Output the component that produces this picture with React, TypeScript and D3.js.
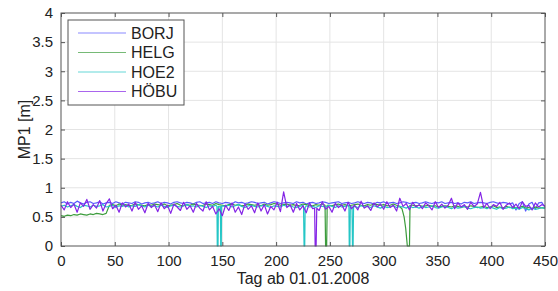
import { useEffect, useRef } from "react";
import * as d3 from "d3";

// day grid: every 3 days from 0 to 450
const days = d3.range(0, 451, 3);

const seriesNames = ["BORJ", "HELG", "HOE2", "HÖBU"];
const seriesColors = ["#5a5aff", "#3c9c3c", "#25c6c6", "#8424e6"];

const xTicks = [0, 50, 100, 150, 200, 250, 300, 350, 400, 450];
const yTicks = [0, 0.5, 1, 1.5, 2, 2.5, 3, 3.5, 4];

const borj = [
  0.74, 0.76, 0.72, 0.75, 0.73, 0.77, 0.74, 0.72, 0.75, 0.76,
  0.73, 0.74, 0.76, 0.72, 0.74, 0.75, 0.73, 0.76, 0.74, 0.72,
  0.75, 0.74, 0.73, 0.76, 0.75, 0.72, 0.74, 0.75, 0.73, 0.74,
  0.76, 0.73, 0.75, 0.74, 0.72, 0.75, 0.76, 0.74, 0.73, 0.75,
  0.74, 0.72, 0.75, 0.76, 0.73, 0.74, 0.75, 0.73, 0.76, 0.74,
  0.73, 0.75, 0.74, 0.72, 0.76, 0.74, 0.75, 0.73, 0.74, 0.76,
  0.75, 0.73, 0.74, 0.75, 0.72, 0.74, 0.76, 0.75, 0.73, 0.74,
  0.75, 0.74, 0.73, 0.76, 0.74, 0.75, 0.72, 0.74, 0.75, 0.73,
  0.74, 0.76, 0.75, 0.73, 0.74, 0.75, 0.76, 0.73, 0.74, 0.75,
  0.73, 0.74, 0.76, 0.74, 0.73, 0.75, 0.74, 0.72, 0.75, 0.74,
  0.76, 0.73, 0.74, 0.75, 0.73, 0.74, 0.76, 0.75, 0.73, 0.74,
  0.75, 0.73, 0.74, 0.76, 0.74, 0.73, 0.75, 0.74, 0.76, 0.73,
  0.74, 0.75, 0.73, 0.74, 0.72, 0.75, 0.74, 0.76, 0.73, 0.74,
  0.75, 0.74, 0.73, 0.75, 0.76, 0.74, 0.73, 0.75, 0.74, 0.72,
  0.74, 0.62, 0.73, 0.76, 0.6, 0.72, 0.75, 0.63, 0.74, 0.75,
  0.66,
];

const helg = [
  0.52, 0.51, 0.53, 0.52, 0.54, 0.53, 0.55, 0.54, 0.53, 0.55,
  0.54, 0.56, 0.55, 0.54, 0.56, 0.7, 0.71, 0.69, 0.72, 0.7,
  0.71, 0.69, 0.7, 0.72, 0.71, 0.7, 0.69, 0.71, 0.7, 0.72,
  0.71, 0.7, 0.72, 0.69, 0.7, 0.71, 0.73, 0.7, 0.69, 0.71,
  0.7, 0.72, 0.71, 0.69, 0.7, 0.72, 0.71, 0.7, 0.73, 0.71,
  0.7, 0.69, 0.71, 0.72, 0.7, 0.71, 0.69, 0.7, 0.72, 0.71,
  0.7, 0.71, 0.69, 0.72, 0.7, 0.71, 0.73, 0.72, 0.7, 0.71,
  0.72, 0.7, 0.71, 0.69, 0.7, 0.72, 0.71, 0.7, 0.69, 0.71,
  0.7, 0.72, 0.71, 0.7, 0.69, 0.71, 0.72, 0.7, 0.71, 0.69,
  0.7, 0.71, 0.72, 0.7, 0.69, 0.71, 0.7, 0.72, 0.71, 0.7,
  0.71, 0.69, 0.7, 0.72, 0.7, 0.71, 0.7, 0.69, 0.71, 0.7,
  0.69, 0.7, 0.68, 0.69, 0.7, 0.68, 0.69, 0.67, 0.68, 0.69,
  0.68, 0.67, 0.69, 0.68, 0.66, 0.68, 0.67, 0.69, 0.68, 0.66,
  0.67, 0.68, 0.66, 0.67, 0.69, 0.66, 0.67, 0.65, 0.68, 0.66,
  0.67, 0.65, 0.66, 0.68, 0.65, 0.66, 0.64, 0.67, 0.65, 0.66,
  0.65,
];

const hoe2 = [
  0.68, 0.7, 0.67, 0.69, 0.71, 0.68, 0.66, 0.7, 0.69, 0.67,
  0.7, 0.68, 0.69, 0.71, 0.67, 0.68, 0.7, 0.66, 0.69, 0.68,
  0.7, 0.67, 0.69, 0.68, 0.71, 0.69, 0.67, 0.7, 0.68, 0.69,
  0.67, 0.7, 0.68, 0.66, 0.69, 0.7, 0.68, 0.67, 0.69, 0.71,
  0.68, 0.69, 0.67, 0.7, 0.68, 0.66, 0.69, 0.68, 0.7, 0.67,
  0.69, 0.68, 0.7, 0.67, 0.69, 0.71, 0.68, 0.66, 0.69, 0.7,
  0.68, 0.67, 0.69, 0.7, 0.68, 0.66, 0.69, 0.68, 0.67, 0.7,
  0.68, 0.69, 0.67, 0.66, 0.68, 0.7, 0.69, 0.67, 0.68, 0.66,
  0.69, 0.68, 0.67, 0.7, 0.68, 0.66, 0.69, 0.67, 0.68, 0.7,
  0.67, 0.68, 0.66, 0.69, 0.67, 0.68, 0.66, 0.69, 0.67, 0.65,
  0.68, 0.66, 0.67, 0.69, 0.66, 0.68, 0.67, 0.65, 0.68, 0.66,
  0.67, 0.65, 0.68, 0.66, 0.67, 0.69, 0.66, 0.65, 0.67, 0.68,
  0.66, 0.64, 0.67, 0.65, 0.66, 0.68, 0.65, 0.64, 0.66, 0.67,
  0.65, 0.66, 0.64, 0.67, 0.65, 0.63, 0.66, 0.64, 0.65, 0.67,
  0.64, 0.65, 0.63, 0.66, 0.64, 0.62, 0.65, 0.63, 0.64, 0.66,
  0.64,
];

const hobu = [
  0.7, 0.62, 0.76, 0.66, 0.72, 0.58, 0.74, 0.68, 0.8, 0.63,
  0.71, 0.65, 0.78, 0.6, 0.73, 0.81, 0.64, 0.7, 0.58, 0.74,
  0.67, 0.72, 0.6, 0.75, 0.63, 0.69, 0.57, 0.73, 0.66, 0.71,
  0.59, 0.74, 0.64, 0.7, 0.56, 0.72, 0.67, 0.61, 0.75, 0.63,
  0.69, 0.58, 0.73, 0.65, 0.6, 0.76, 0.62, 0.68, 0.55, 0.64,
  0.52, 0.7, 0.61, 0.74, 0.58, 0.67, 0.54, 0.72, 0.63, 0.69,
  0.57, 0.74, 0.6, 0.71, 0.55, 0.68, 0.62, 0.75, 0.59, 0.93,
  0.66, 0.71, 0.58, 0.73, 0.62, 0.69, 0.57, 0.74, 0.64, 0.7,
  0.61, 0.76, 0.63, 0.68, 0.58, 0.73, 0.66, 0.71, 0.6, 0.75,
  0.64, 0.7, 0.62, 0.77, 0.65, 0.69, 0.61, 0.74, 0.67, 0.72,
  0.63, 0.76, 0.66, 0.7, 0.6, 0.82, 0.68, 0.73, 0.62, 0.75,
  0.67, 0.71, 0.64, 0.74, 0.69, 0.62, 0.76, 0.66, 0.72, 0.65,
  0.7, 0.82, 0.64, 0.74, 0.67, 0.71, 0.63, 0.75, 0.68, 0.72,
  0.92, 0.66, 0.73, 0.64, 0.71, 0.68, 0.75, 0.63, 0.7, 0.74,
  0.66, 0.72, 0.64, 0.76, 0.68, 0.7, 0.62, 0.74, 0.67, 0.71,
  0.69,
];

// data gaps (drops to zero), as [day, value] points
const borjDrops: [number, number][][] = [];
const helgDrops: [number, number][][] = [
  [[245.5, 0.7], [246, 0], [247, 0], [247.5, 0.7]],
  [[314, 0.69], [317, 0.64], [319, 0.5], [320.5, 0.3], [321.5, 0.1], [322, 0], [324, 0], [324.5, 0.7]],
];
const hoe2Drops: [number, number][][] = [
  [[145, 0.68], [145.3, 0], [146, 0], [146.3, 0.68]],
  [[148.2, 0.68], [148.5, 0], [149, 0], [149.3, 0.68]],
  [[225.5, 0.66], [226, 0], [226.6, 0], [227, 0.66]],
  [[267.7, 0.67], [268, 0], [268.6, 0], [269, 0.67]],
  [[270.6, 0.67], [271, 0], [271.6, 0], [272, 0.67]],
];
const hobuDrops: [number, number][][] = [
  [[235.8, 0.65], [236.3, 0], [237.2, 0], [237.8, 0.65]],
];

const seriesValues = [borj, helg, hoe2, hobu];
const seriesDrops = [borjDrops, helgDrops, hoe2Drops, hobuDrops];

function buildPoints(values: number[], drops: [number, number][][]) {
  let pts: [number, number][] = days.map((d, i) => [d, values[i]]);
  drops.forEach((ev) => {
    const a = ev[0][0];
    const b = ev[ev.length - 1][0];
    pts = pts.filter((p) => p[0] < a || p[0] > b).concat(ev);
  });
  return pts.sort((p, q) => p[0] - q[0]);
}

export default function App() {
  const ref = useRef<SVGSVGElement>(null);

  useEffect(() => {
    const svg = d3.select(ref.current);
    svg.selectAll("*").remove();

    const W = 558;
    const H = 291;
    const margin = { top: 13, right: 13, bottom: 45, left: 61 };
    const width = W - margin.left - margin.right;
    const height = H - margin.top - margin.bottom;
    const font = "Arial, 'Liberation Sans', Helvetica, sans-serif";

    svg
      .attr("width", W)
      .attr("height", H)
      .style("display", "block")
      .style("position", "absolute")
      .style("left", "0px")
      .style("top", "0px");
    svg.append("rect").attr("width", W).attr("height", H).attr("fill", "#fff");

    const chart = svg
      .append("g")
      .attr("transform", `translate(${margin.left},${margin.top})`);

    const x = d3.scaleLinear().domain([0, 450]).range([0, width]);
    const y = d3.scaleLinear().domain([0, 4]).range([height, 0]);

    // grid
    chart
      .append("g")
      .selectAll("line")
      .data(xTicks.slice(1, -1))
      .enter()
      .append("line")
      .attr("x1", (d) => x(d))
      .attr("x2", (d) => x(d))
      .attr("y1", 0)
      .attr("y2", height)
      .attr("stroke", "#e4e4e4")
      .attr("stroke-width", 1);
    chart
      .append("g")
      .selectAll("line")
      .data(yTicks.slice(1, -1))
      .enter()
      .append("line")
      .attr("x1", 0)
      .attr("x2", width)
      .attr("y1", (d) => y(d))
      .attr("y2", (d) => y(d))
      .attr("stroke", "#e4e4e4")
      .attr("stroke-width", 1);

    // lines
    const line = d3
      .line<[number, number]>()
      .x((d) => x(d[0]))
      .y((d) => y(d[1]));

    seriesNames.forEach((name, i) => {
      chart
        .append("path")
        .datum(buildPoints(seriesValues[i], seriesDrops[i]))
        .attr("fill", "none")
        .attr("stroke", seriesColors[i])
        .attr("stroke-width", 1.2)
        .attr("stroke-linejoin", "round")
        .attr("d", line);
    });

    // axes with inward ticks (MATLAB style)
    const tickLen = 4;
    const axisColor = "#555";
    const styleAxis = (g: any) => {
      g.select(".domain").remove();
      g.selectAll(".tick line").attr("stroke", axisColor);
      g.selectAll(".tick text")
        .attr("fill", "#222")
        .style("font-family", font)
        .style("font-size", "15px");
    };

    chart
      .append("g")
      .attr("transform", `translate(0,${height})`)
      .call(
        d3
          .axisBottom(x)
          .tickValues(xTicks)
          .tickSize(-tickLen)
          .tickPadding(tickLen + 5)
          .tickFormat(d3.format("d"))
      )
      .call(styleAxis);
    chart
      .append("g")
      .call(d3.axisTop(x).tickValues(xTicks).tickSize(-tickLen).tickFormat(() => ""))
      .call(styleAxis);
    chart
      .append("g")
      .call(
        d3
          .axisLeft(y)
          .tickValues(yTicks)
          .tickSize(-tickLen)
          .tickPadding(tickLen + 4)
          .tickFormat((d: any) => String(d))
      )
      .call(styleAxis);
    chart
      .append("g")
      .attr("transform", `translate(${width},0)`)
      .call(d3.axisRight(y).tickValues(yTicks).tickSize(-tickLen).tickFormat(() => ""))
      .call(styleAxis);

    chart
      .append("rect")
      .attr("x", 0)
      .attr("y", 0)
      .attr("width", width)
      .attr("height", height)
      .attr("fill", "none")
      .attr("stroke", axisColor)
      .attr("stroke-width", 1);

    // axis labels
    svg
      .append("text")
      .attr("x", margin.left + width / 2)
      .attr("y", 284)
      .attr("text-anchor", "middle")
      .style("font-family", font)
      .style("font-size", "16px")
      .attr("fill", "#222")
      .text("Tag ab 01.01.2008");
    svg
      .append("text")
      .attr("transform", `translate(30,${margin.top + height / 2}) rotate(-90)`)
      .attr("text-anchor", "middle")
      .style("font-family", font)
      .style("font-size", "16px")
      .attr("fill", "#222")
      .text("MP1 [m]");

    // legend
    const lg = chart.append("g").attr("transform", "translate(7,7)");
    lg.append("rect")
      .attr("width", 116)
      .attr("height", 85)
      .attr("fill", "#fff")
      .attr("stroke", "#555")
      .attr("stroke-width", 1);
    seriesNames.forEach((name, i) => {
      const ly = 13 + i * 19.5;
      lg.append("line")
        .attr("x1", 10)
        .attr("x2", 58)
        .attr("y1", ly)
        .attr("y2", ly)
        .attr("stroke", seriesColors[i])
        .attr("stroke-opacity", 0.7)
        .attr("stroke-width", 1.2);
      lg.append("text")
        .attr("x", 63)
        .attr("y", ly)
        .attr("dy", "0.35em")
        .style("font-family", font)
        .style("font-size", "16px")
        .attr("fill", "#222")
        .text(name);
    });
  }, []);

  return <svg ref={ref}></svg>;
}
